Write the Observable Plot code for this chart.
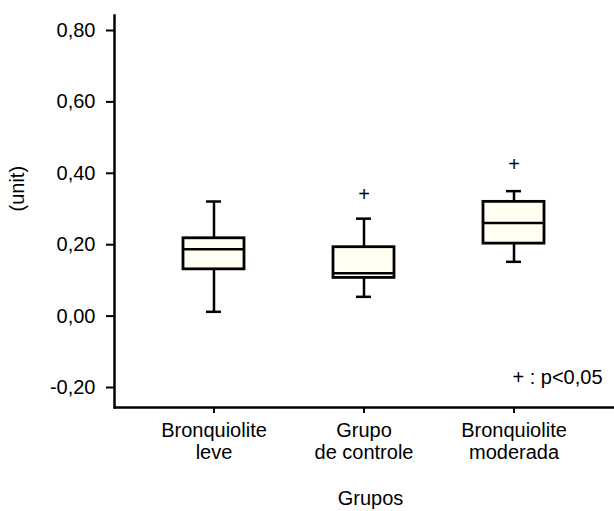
<!DOCTYPE html>
<html>
<head>
<meta charset="utf-8">
<script src="https://cdn.jsdelivr.net/npm/d3@7"></script>
<script src="https://cdn.jsdelivr.net/npm/@observablehq/plot@0.6"></script>
<style>
  html, body { margin: 0; padding: 0; background: #fff; }
</style>
</head>
<body>
<div id="chart"></div>
<script>
// ---- data ----
const groups = ["Bronquiolite leve", "Grupo de controle", "Bronquiolite moderada"];
const groupLabels = ["Bronquiolite\nleve", "Grupo\nde controle", "Bronquiolite\nmoderada"];
const whiskerLow  = [0.012, 0.054, 0.152];
const q1          = [0.131, 0.107, 0.203];
const median      = [0.187, 0.120, 0.261];
const q3          = [0.218, 0.193, 0.320];
const whiskerHigh = [0.321, 0.273, 0.350];
const outlierGroups = ["Grupo de controle", "Bronquiolite moderada"];
const outlierValues = [0.341, 0.425];
const yTicks = [-0.2, 0, 0.2, 0.4, 0.6, 0.8];
const yDomain = [-0.256, 0.842];
const yTitle = "(unit)";
const xTitle = "Grupos";
const noteText = "+ : p<0,05";
const noteValue = -0.171;

const stats = groups.map((g, i) => ({
  group: g, lo: whiskerLow[i], q1: q1[i], med: median[i], q3: q3[i], hi: whiskerHigh[i]
}));
const outliers = outlierGroups.map((g, i) => ({group: g, value: outlierValues[i]}));
const labelOf = new Map(groups.map((g, i) => [g, groupLabels[i]]));
const fmt = v => d3.format(".2f")(v).replace(".", ",").replace("−", "-");
const FS = 20;

const chart = Plot.plot({
  width: 614,
  height: 511,
  marginLeft: 114,
  marginRight: 0,
  marginTop: 15,
  marginBottom: 104,
  style: {fontFamily: "Liberation Sans, Arial, sans-serif", fontSize: FS + "px", color: "black", background: "white"},
  x: {type: "band", domain: groups, paddingInner: 0.593, paddingOuter: 0.463},
  y: {domain: yDomain},
  marks: [
    Plot.ruleX(stats, {x: "group", y1: "lo", y2: "hi", stroke: "black", strokeWidth: 2.5}),
    Plot.barY(stats, {x: "group", y1: "q1", y2: "q3", fill: "#fffef0", stroke: "black", strokeWidth: 2.8}),
    Plot.tickY(stats, {x: "group", y: "med", stroke: "black", strokeWidth: 2.5}),
    Plot.tickY(stats, {x: "group", y: "lo", stroke: "black", strokeWidth: 2.5, insetLeft: 23, insetRight: 23}),
    Plot.tickY(stats, {x: "group", y: "hi", stroke: "black", strokeWidth: 2.5, insetLeft: 23, insetRight: 23}),
    Plot.text(outliers, {x: "group", y: "value", text: () => "+", fontSize: FS, fill: "black"}),
    Plot.text([noteText], {frameAnchor: "right", y: [noteValue], text: d => d, textAnchor: "end", dx: -12, fontSize: FS, fill: "black"}),
    Plot.axisY({ticks: yTicks, tickFormat: fmt, tickSize: 8, tickPadding: 11, strokeWidth: 2, fontSize: FS, label: null}),
    Plot.axisX({tickFormat: d => labelOf.get(d), tickSize: 6, tickPadding: 8, strokeWidth: 2, lineHeight: 1.1, fontSize: FS, label: null}),
    Plot.text([yTitle], {frameAnchor: "left", text: d => d, rotate: -90, dx: -97, fontSize: FS, fill: "black"}),
    Plot.text([xTitle], {frameAnchor: "bottom", text: d => d, dy: 97, dx: 6, fontSize: FS, fill: "black"}),
    Plot.ruleY([yDomain[0]], {stroke: "black", strokeWidth: 2.5}),
    Plot.frame({anchor: "left", stroke: "black", strokeWidth: 2.5})
  ]
});
document.getElementById("chart").appendChild(chart);
</script>
</body>
</html>
